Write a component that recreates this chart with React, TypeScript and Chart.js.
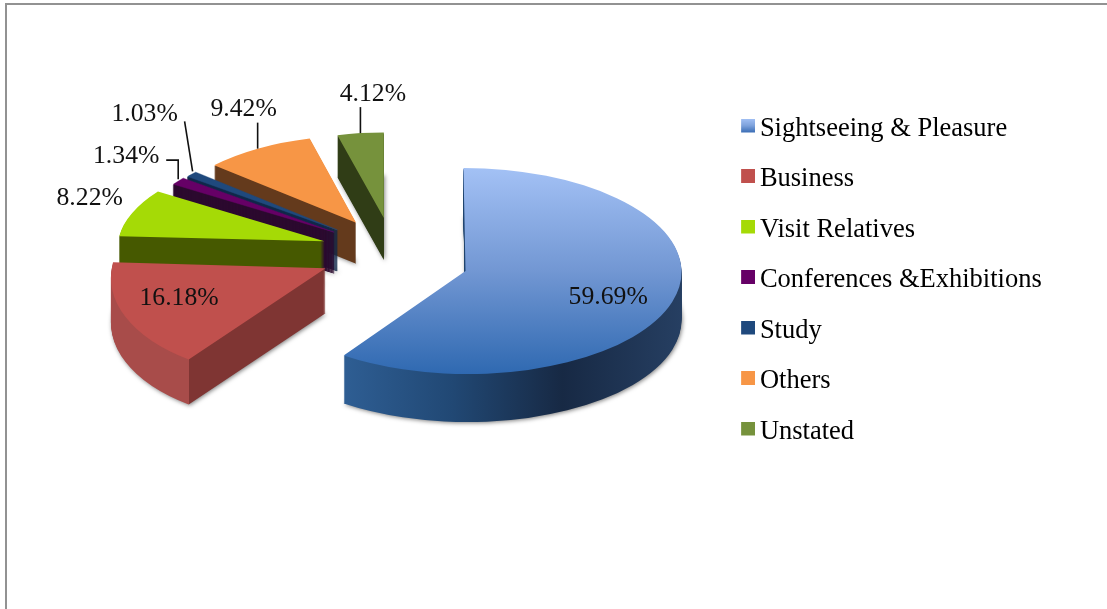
import React, { useEffect, useRef } from "react";
import { Chart, registerables } from "chart.js";

Chart.register(...registerables);

// ---- data ----
const categories = [
  "Sightseeing & Pleasure",
  "Business",
  "Visit Relatives",
  "Conferences &Exhibitions",
  "Study",
  "Others",
  "Unstated",
];
const shares = [59.69, 16.18, 8.22, 1.34, 1.03, 9.42, 4.12];
const valueLabels = ["59.69%", "16.18%", "8.22%", "1.34%", "1.03%", "9.42%", "4.12%"];

// ---- style ----
const topColors = ["#6f96d6", "#c0504d", "#a5da06", "#660066", "#1f497d", "#f79646", "#76923c"];
const faceColors = ["#1f4470", "#7f3533", "#465900", "#2c0a2f", "#10294a", "#643a1c", "#303d16"];
const outerColors = ["#1f4470", "#a84c4a", "#465900", "#2c0a2f", "#10294a", "#643a1c", "#303d16"];
const mainTopStops: [number, string][] = [[0, "#a3c1f5"], [0.5, "#7297d3"], [1, "#2f69b1"]];
const mainWallStops: [number, string][] = [[0.2, "#2f5f95"], [0.465, "#214874"], [0.72, "#172944"], [1, "#263f62"]];
const legendGradientStops: [number, string][] = [[0, "#a3c1f5"], [0.5, "#7fa3dd"], [1, "#3a6db5"]];

// ---- 3D look ----
const RADIUS = 216;
const CENTER_X = 393;
const CENTER_Y = 257;
const EXPLODE_TILT = 0.527;
const TILT = 0.477;
const sliceExplode = [76, 75, 72, 72, 72, 70, 71];
const sliceScaleX = [1, 0.99, 0.955, 0.9, 0.89, 0.885, 0.84];
const sliceScaleY = [1, 1.08, 0.893, 0.86, 0.85, 0.845, 0.83];
const sliceSkew = [0.02, -0.16, -0.14, -0.06, -0.05, -0.03, 0];
const sliceDepth = [48, 45, 42, 41, 41, 41, 42];
const sliceLift = [2, -6, -4, -3, -3, -3, -2];
const thinEdge = [0, 0, 0, 1.4, 1.4, 0, 0];
const drawOrder = [6, 5, 4, 3, 2, 1, 0];

// label placement relative to the slice's outer-edge midpoint
const labelOffsets: [number, number][] = [[-64, -5], [53.5, -19], [-42.5, -15], [-52, -25], [-47, -60], [-14, -39], [12.5, -38.5]];
const leaderPaths: [number, number][][] = [
  [],
  [],
  [],
  [[0, -2], [0, -21], [-12, -21]],
  [[1, -3], [-7, -53]],
  [[0, 0], [0, -26]],
  [[0, 0], [0, -26]],
];

const VALUE_FONT = '25.7px "Liberation Serif"';

function makeStops(g: CanvasGradient, stops: [number, string][]) {
  stops.forEach(([t, c]) => g.addColorStop(t, c));
  return g;
}

function slicePlacement(arc: any, i: number) {
  const mid = (arc.startAngle + arc.endAngle) / 2;
  const tx = CENTER_X + sliceExplode[i] * Math.cos(mid);
  const ty = CENTER_Y + sliceExplode[i] * EXPLODE_TILT * Math.sin(mid) + sliceLift[i];
  return { mid, tx, ty, sx: sliceScaleX[i], sy: sliceScaleY[i] * TILT, sk: sliceSkew[i] };
}

function drawArcAt(ctx: CanvasRenderingContext2D, arc: any, i: number, dy: number, fill: any, edgeColor: string, edge: number) {
  const { tx, ty, sx, sy, sk } = slicePlacement(arc, i);
  const saved = arc.options;
  arc.options = { ...saved, backgroundColor: fill, borderWidth: edge, borderColor: edgeColor, borderJoinStyle: "miter" };
  ctx.save();
  ctx.transform(sx, 0, sk * sy, sy, tx, ty + dy);
  ctx.translate(-arc.x, -arc.y);
  arc.draw(ctx);
  ctx.restore();
  arc.options = saved;
}

const pie3d = {
  id: "pie3d",
  beforeDatasetDraw() {
    return false; // the slices are drawn extruded below
  },
  afterDatasetsDraw(chart: any) {
    const ctx: CanvasRenderingContext2D = chart.ctx;
    const arcs = chart.getDatasetMeta(0).data;

    drawOrder.forEach((i) => {
      const arc = arcs[i];
      let wall: any;
      if (i === 0) {
        wall = makeStops(ctx.createLinearGradient(arc.x - RADIUS, 0, arc.x + RADIUS, 0), mainWallStops);
      } else {
        const cornerX = arc.x + RADIUS * Math.cos(arc.startAngle);
        const t = Math.max(0, Math.min(1, (cornerX - (arc.x - RADIUS)) / (2 * RADIUS)));
        wall = makeStops(ctx.createLinearGradient(arc.x - RADIUS, 0, arc.x + RADIUS, 0), [
          [0, outerColors[i]],
          [t, outerColors[i]],
          [Math.min(1, t + 0.001), faceColors[i]],
          [1, faceColors[i]],
        ]);
      }
      const depth = sliceDepth[i];
      for (let d = depth; d >= 1; d--) {
        ctx.save();
        if (d === depth) {
          ctx.shadowColor = "rgba(0,0,0,0.5)";
          ctx.shadowBlur = 4;
          ctx.shadowOffsetX = 1;
          ctx.shadowOffsetY = 1;
        }
        drawArcAt(ctx, arc, i, d, wall, faceColors[i], thinEdge[i]);
        ctx.restore();
      }
      const top =
        i === 0
          ? makeStops(ctx.createLinearGradient(0, arc.y - RADIUS, 0, arc.y + RADIUS), mainTopStops)
          : topColors[i];
      drawArcAt(ctx, arc, i, 0, top, topColors[i], thinEdge[i] / 2);
    });

    ctx.save();
    ctx.fillStyle = "#111";
    ctx.strokeStyle = "#111";
    ctx.lineWidth = 1.6;
    ctx.font = VALUE_FONT;
    ctx.textAlign = "center";
    ctx.textBaseline = "middle";
    arcs.forEach((arc: any, i: number) => {
      const { mid, tx, ty, sx, sy, sk } = slicePlacement(arc, i);
      const dy = RADIUS * sy * Math.sin(mid);
      const ax = tx + RADIUS * sx * Math.cos(mid) + sk * dy;
      const ay = ty + dy;
      const path = leaderPaths[i];
      if (path.length) {
        ctx.beginPath();
        path.forEach(([px, py], k) => (k ? ctx.lineTo(ax + px, ay + py) : ctx.moveTo(ax + px, ay + py)));
        ctx.stroke();
      }
      ctx.fillText(valueLabels[i], ax + labelOffsets[i][0], ay + labelOffsets[i][1]);
    });
    ctx.restore();
  },
};

function legendSwatch(i: number) {
  const c = document.createElement("canvas");
  c.width = 17;
  c.height = 21;
  const g = c.getContext("2d")!;
  g.fillStyle = i === 0 ? makeStops(g.createLinearGradient(0, 0, 0, 14), legendGradientStops) : topColors[i];
  g.fillRect(3, 0, 14, 14);
  return c;
}

export default function App() {
  const ref = useRef<HTMLCanvasElement>(null);
  useEffect(() => {
    document.body.style.margin = "0";
    const chart = new Chart(ref.current!, {
      type: "pie",
      data: {
        labels: categories,
        datasets: [{ data: shares, backgroundColor: topColors, borderWidth: 0 }],
      },
      options: {
        responsive: false,
        animation: false,
        radius: RADIUS,
        layout: { padding: { left: 0, right: 55.25, top: 0, bottom: 48 } },
        plugins: {
          tooltip: { enabled: false },
          legend: {
            position: "right",
            align: "center",
            labels: {
              usePointStyle: true,
              boxWidth: 0.01,
              boxHeight: 14,
              padding: 24,
              color: "#111",
              font: { family: '"Liberation Serif"', size: 26.5 },
              generateLabels: () =>
                categories.map((text, i) => ({
                  text,
                  fillStyle: topColors[i],
                  strokeStyle: topColors[i],
                  lineWidth: 0,
                  pointStyle: legendSwatch(i),
                  hidden: false,
                  index: i,
                })),
            },
          },
        },
      } as any,
      plugins: [pie3d as any],
    });
    return () => chart.destroy();
  }, []);
  return (
    <div style={{ position: "fixed", left: 0, top: 0, width: 1107, height: 609, background: "#fff", overflow: "hidden" }}>
      <div style={{ position: "absolute", left: 5, top: 3, right: 0, bottom: 0, borderTop: "2px solid #929292", borderLeft: "2px solid #929292" }} />
      <canvas ref={ref} width={1107} height={609} style={{ position: "absolute", left: 0, top: 0, display: "block" }} />
    </div>
  );
}
